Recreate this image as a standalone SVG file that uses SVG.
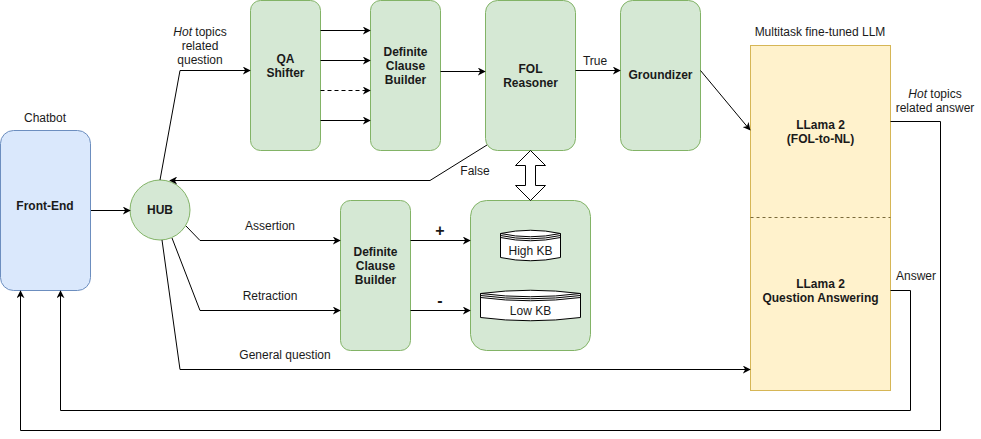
<svg xmlns="http://www.w3.org/2000/svg" width="981" height="439" viewBox="0 0 981 439">
<defs>
<marker id="ah" viewBox="0 0 10 10" refX="9" refY="5" markerWidth="8" markerHeight="8" markerUnits="userSpaceOnUse" orient="auto">
<path d="M0,0 L10,5 L0,10 L3,5 Z" fill="#000"/>
</marker>
<style>
text{font-family:"Liberation Sans",Arial,sans-serif;font-size:12px;fill:#1a1a1a}
.b{font-weight:bold}
.c{text-anchor:middle}
.g{fill:#d5e8d4;stroke:#82b366;stroke-width:1}
.ln{fill:none;stroke:#000;stroke-width:1}
.ar{fill:none;stroke:#000;stroke-width:1;marker-end:url(#ah)}
.cyl{fill:#fff;stroke:#000;stroke-width:1}
</style>
</defs>
<rect width="981" height="439" fill="#fff"/>

<g id="chatbot">
<text class="c" x="45" y="122">Chatbot</text>
<rect x="0.5" y="130.5" width="90" height="160" rx="13" fill="#dae8fc" stroke="#6c8ebf"/>
<text class="c b" x="45" y="210">Front-End</text>
</g>

<g id="hub">
<circle cx="160" cy="210" r="30" class="g"/>
<text class="c b" x="160" y="214">HUB</text>
</g>

<g id="qa-shifter">
<rect x="250.5" y="0.5" width="70" height="150" rx="10" class="g"/>
<text class="c b" x="285.5" y="63">QA</text>
<text class="c b" x="285.5" y="77">Shifter</text>
</g>

<g id="dcb1">
<rect x="370.5" y="0.5" width="70" height="150" rx="10" class="g"/>
<text class="c b" x="405.5" y="56">Definite</text>
<text class="c b" x="405.5" y="70">Clause</text>
<text class="c b" x="405.5" y="84">Builder</text>
</g>

<g id="fol">
<rect x="485.5" y="0.5" width="90" height="150" rx="12" class="g"/>
<text class="c b" x="530.5" y="73">FOL</text>
<text class="c b" x="530.5" y="87">Reasoner</text>
</g>

<g id="groundizer">
<rect x="620.5" y="0.5" width="80" height="150" rx="12" class="g"/>
<text class="c b" x="660.5" y="79">Groundizer</text>
</g>

<g id="llm">
<text class="c" x="820" y="36">Multitask fine-tuned LLM</text>
<rect x="750.5" y="45.5" width="140" height="345" fill="#fff2cc" stroke="#d6b656"/>
<line x1="750.5" y1="217.5" x2="890.5" y2="217.5" stroke="#7a6a3a" stroke-dasharray="3,3"/>
<text class="c b" x="820.5" y="129">LLama 2</text>
<text class="c b" x="820.5" y="143">(FOL-to-NL)</text>
<text class="c b" x="820.5" y="288">LLama 2</text>
<text class="c b" x="820.5" y="302">Question Answering</text>
</g>

<g id="dcb2">
<rect x="340.5" y="200.5" width="70" height="150" rx="10" class="g"/>
<text class="c b" x="375.5" y="256">Definite</text>
<text class="c b" x="375.5" y="270">Clause</text>
<text class="c b" x="375.5" y="284">Builder</text>
</g>

<g id="kb">
<rect x="470.5" y="200.5" width="120" height="150" rx="16" class="g"/>
<g id="high-kb">
<path class="cyl" d="M500.5,233.5 Q530.5,227 560.5,233.5 L560.5,257.5 Q530.5,264 500.5,257.5 Z"/>
<path class="ln" d="M500.5,233.5 Q530.5,240 560.5,233.5 M500.5,235.5 Q530.5,242 560.5,235.5 M500.5,237.5 Q530.5,244 560.5,237.5"/>
<text class="c" x="530.5" y="255">High KB</text>
</g>
<g id="low-kb">
<path class="cyl" d="M480.5,293.5 Q530.5,287 580.5,293.5 L580.5,317.5 Q530.5,324 480.5,317.5 Z"/>
<path class="ln" d="M480.5,293.5 Q530.5,300 580.5,293.5 M480.5,295.5 Q530.5,302 580.5,295.5 M480.5,297.5 Q530.5,304 580.5,297.5"/>
<text class="c" x="530.5" y="315">Low KB</text>
</g>
</g>

<g id="connectors">
<line class="ar" x1="91" y1="210.5" x2="130" y2="210.5"/>
<polyline class="ar" points="160,180 180,70.5 250,70.5"/>
<line class="ar" x1="320.5" y1="30.5" x2="370" y2="30.5"/>
<line class="ar" x1="320.5" y1="60.5" x2="370" y2="60.5"/>
<line class="ar" x1="320.5" y1="90.5" x2="370" y2="90.5" stroke-dasharray="4,3"/>
<line class="ar" x1="320.5" y1="120.5" x2="370" y2="120.5"/>
<line class="ar" x1="440.5" y1="71.5" x2="485" y2="71.5"/>
<line class="ar" x1="575.5" y1="70.5" x2="620" y2="70.5"/>
<line class="ar" x1="700.5" y1="70.5" x2="750" y2="130"/>
<polyline class="ar" points="487,145 430,180.5 170,180.5"/>
<path d="M530.5,150.5 L545.5,165.5 L535.5,165.5 L535.5,185.5 L545.5,185.5 L530.5,200.5 L515.5,185.5 L525.5,185.5 L525.5,165.5 L515.5,165.5 Z" fill="#fff" stroke="#000"/>
<polyline class="ar" points="186,226 200,240.5 340,240.5"/>
<polyline class="ar" points="172,238 200,310.5 340,310.5"/>
<polyline class="ar" points="162,240 180,369.5 750,369.5"/>
<line class="ar" x1="410.5" y1="240.5" x2="470" y2="240.5"/>
<line class="ar" x1="410.5" y1="310.5" x2="470" y2="310.5"/>
<polyline class="ar" points="890.5,121.5 940.5,121.5 940.5,430.5 20.5,430.5 20.5,291"/>
<polyline class="ar" points="890.5,290.5 910.5,290.5 910.5,410.5 60.5,410.5 60.5,291"/>
</g>

<g id="labels">
<text class="c" x="200" y="36"><tspan font-style="italic">Hot</tspan> topics</text>
<text class="c" x="200" y="50">related</text>
<text class="c" x="200" y="64">question</text>
<text class="c" x="595" y="65">True</text>
<text class="c" x="475" y="175">False</text>
<text class="c" x="270" y="230">Assertion</text>
<text class="c" x="270" y="300">Retraction</text>
<text class="c" x="285" y="359">General question</text>
<text class="c" x="440" y="236" style="font-size:16px;font-weight:bold">+</text>
<text class="c" x="440" y="306" style="font-size:16px;font-weight:bold">-</text>
<text class="c" x="935" y="98"><tspan font-style="italic">Hot</tspan> topics</text>
<text class="c" x="935" y="112">related answer</text>
<text class="c" x="916" y="280">Answer</text>
</g>
</svg>
